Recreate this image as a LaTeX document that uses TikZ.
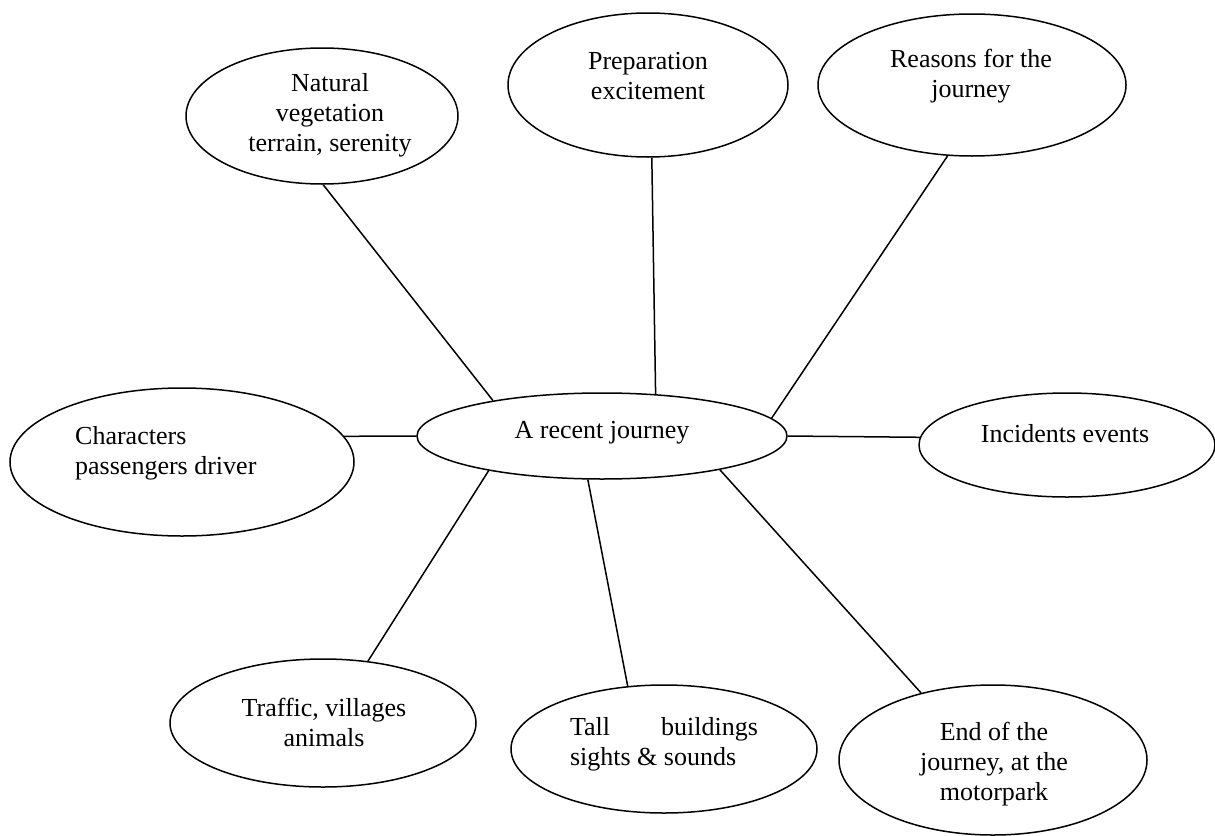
\documentclass[tikz,border=0pt]{standalone}
\usepackage{fontspec}
\setmainfont{Liberation Serif}
\usetikzlibrary{shapes.geometric}
\newcommand{\mapfont}{\fontsize{26}{30}\selectfont}
\begin{document}
\begin{tikzpicture}[x=1pt,y=-1pt,
  bub/.style={draw, ellipse, line width=1.5pt, inner sep=0pt},
  txt/.style={align=center, inner sep=0pt, font=\mapfont},
  link/.style={line width=1.5pt}]
\useasboundingbox (0,0) rectangle (1215,835);
% ellipses
\node[bub, minimum width=272pt, minimum height=136pt] (nat) at (322,116) {};
\node[bub, minimum width=280pt, minimum height=144pt] (prep) at (648,85) {};
\node[bub, minimum width=308pt, minimum height=142pt] (rea) at (972,85) {};
\node[bub, minimum width=344pt, minimum height=148pt] (chr) at (182,462) {};
\node[bub, minimum width=370pt, minimum height=86pt] (main) at (602,436) {};
\node[bub, minimum width=296pt, minimum height=104pt] (inc) at (1067,445) {};
\node[bub, minimum width=306pt, minimum height=128pt] (tra) at (323,723) {};
\node[bub, minimum width=306pt, minimum height=128pt] (tal) at (664,749) {};
\node[bub, minimum width=308pt, minimum height=150pt] (end) at (993,760) {};
% texts
\node[txt] (natT) at (330,115) {Natural\\vegetation\\terrain, serenity};
\node[txt] (prepT) at (648,76) {Preparation\\excitement};
\node[txt] (reaT) at (971,76) {Reasons for the\\journey};
\node[txt, align=left, anchor=west] (chrT) at (75,453) {Characters\\passengers driver};
\node[txt] (mainT) at (602,433) {A recent journey};
\node[txt] (incT) at (1065,434) {Incidents events};
\node[txt] (traT) at (324,722) {Traffic, villages\\animals};
\node[txt, align=left] (talT) at (664,744) {\makebox[188pt][l]{Tall\hfill buildings}\\sights \& sounds};
\node[txt] (endT) at (994,764) {End of the\\journey, at the\\motorpark};
% connectors
\draw[link] (nat.-89) -- (main.162.7);
\draw[link] (prep.-87) -- (main.38.3);
\draw[link] (rea.-109.4) -- (main.6.9);
\draw[link] (chr.9.3) -- (main.180);
\draw[link] (inc.177) -- (main.0);
\draw[link] (tra.54) -- (main.-163.9);
\draw[link] (tal.120.7) -- (main.-108);
\draw[link] (end.137.4) -- (main.-16.5);
\end{tikzpicture}
\end{document}
